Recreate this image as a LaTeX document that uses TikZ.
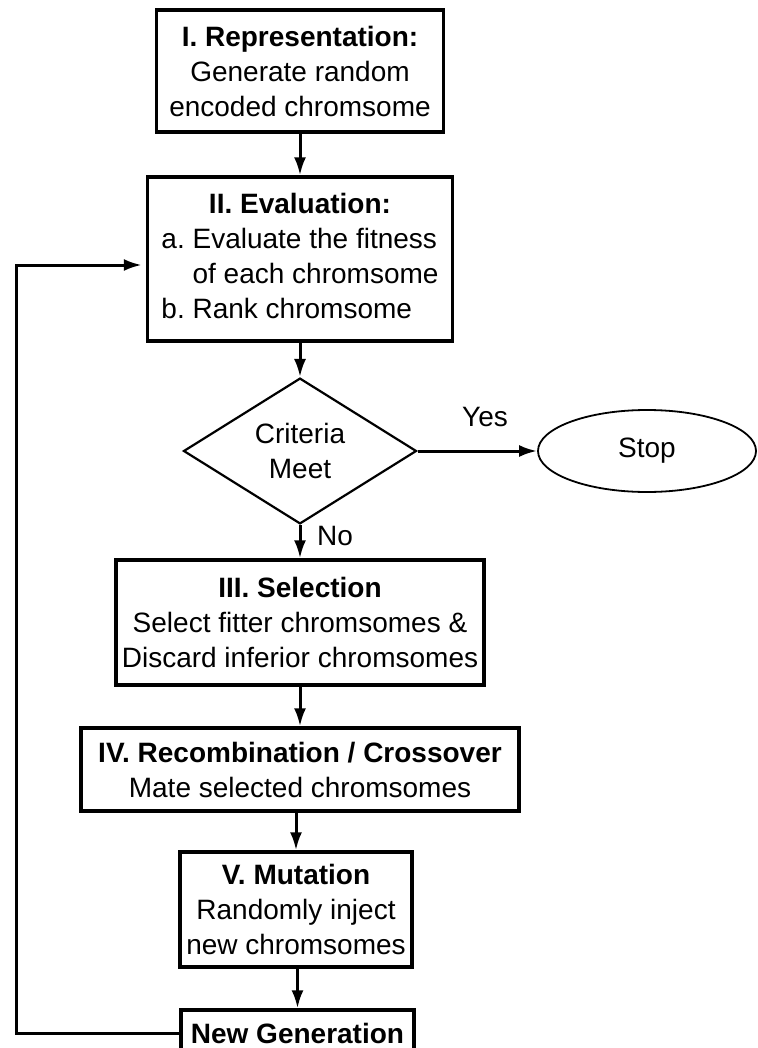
\documentclass[tikz,border=0pt]{standalone}
\usepackage{fontspec}
\setmainfont{Liberation Sans}
\usetikzlibrary{arrows.meta,shapes.geometric}

\begin{document}
\frenchspacing
\begin{tikzpicture}[
  x=0.5pt, y=-0.5pt,
  every node/.style={font=\fontsize{14}{17.5}\selectfont, inner sep=2pt},
  box/.style={draw, line width=1.7pt, align=center},
  decision/.style={draw, diamond, line width=1.1pt, align=center, inner sep=0pt},
  terminal/.style={draw, ellipse, line width=0.9pt},
  arrow/.style={draw, line width=1.5pt, -{Latex[length=9pt,width=6pt]}}
]
\useasboundingbox (0,0) rectangle (757,1048);

% Main column of steps
\node[box, minimum width=143.5pt, minimum height=61pt] (repr) at (300,71)
  {\textbf{I. Representation:}\\Generate random\\encoded chromsome};
\node[box, minimum width=152.5pt, minimum height=82pt] (eval) at (300,259)
  {\begin{tabular}{@{}l@{}}
     \multicolumn{1}{@{}c@{}}{\textbf{II. Evaluation:}}\\
     a. Evaluate the fitness\\
     \phantom{a. }of each chromsome\\
     b. Rank chromsome
   \end{tabular}};
\node[decision, minimum width=116.5pt, minimum height=67pt] (crit) at (300,451)
  {Criteria\\Meet};
\node[terminal, minimum width=109pt, minimum height=41pt] (stop) at (647,451) {Stop};
\node[box, minimum width=184pt, minimum height=62.5pt] (sel) at (300,622.5)
  {\textbf{III. Selection}\\Select fitter chromsomes \&\\Discard inferior chromsomes};
\node[box, minimum width=219pt, minimum height=41.5pt] (recomb) at (300,769.5)
  {\textbf{IV. Recombination / Crossover}\\Mate selected chromsomes};
\node[box, minimum width=116pt, minimum height=57.5pt] (mut) at (296,909.5)
  {\textbf{V. Mutation}\\Randomly inject\\new chromsomes};
\node[box, minimum width=116.5pt, minimum height=23pt] (newgen) at (297.5,1033)
  {\textbf{New Generation}};

% Branch labels
\node (yes) at (485,417) {Yes};
\node (no) at (335,536) {No};

% Connectors
\coordinate (loop) at (16,265);
\draw[arrow] (repr) -- (eval);
\draw[arrow] (eval) -- (crit);
\draw[arrow] (crit) -- (stop);
\draw[arrow] (crit) -- (sel);
\draw[arrow] (sel) -- (sel.south |- recomb.north);
\draw[arrow] (recomb.south -| mut) -- (mut);
\draw[arrow] (mut.south -| newgen) -- (newgen);
\draw[arrow] (newgen.west) -| (loop) -- ([xshift=-2pt]loop -| eval.west);
\end{tikzpicture}
\end{document}
